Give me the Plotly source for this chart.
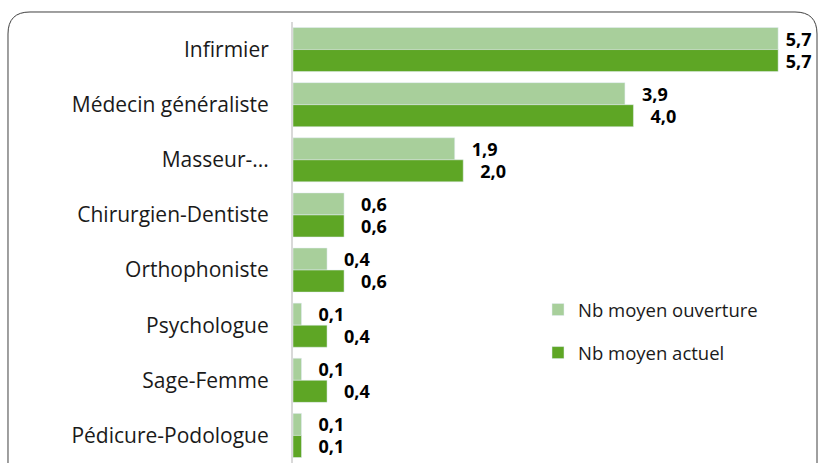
import plotly.graph_objects as go

categories = ["Infirmier", "Médecin généraliste", "Masseur-...", "Chirurgien-Dentiste",
              "Orthophoniste", "Psychologue", "Sage-Femme", "Pédicure-Podologue"]
nb_ouverture = [5.7, 3.9, 1.9, 0.6, 0.4, 0.1, 0.1, 0.1]
nb_actuel = [5.7, 4.0, 2.0, 0.6, 0.6, 0.4, 0.4, 0.1]
series_names = ["Nb moyen ouverture", "Nb moyen actuel"]

W, H = 819, 463
L, R, T, B = 293, 0, 22, 0
PW, PH = W - L - R, H - T - B


def fmt(v):
    pad = "\u00a0" if v >= 5 else "\u00a0\u00a0\u00a0"
    return pad + f"{v:.1f}".replace(".", ",")


def px(x, y):
    return (x - L) / PW, (H - B - y) / PH


fig = go.Figure()
for name, vals, col, grp in [(series_names[0], nb_ouverture, "#A8CF9B", "a"),
                             (series_names[1], nb_actuel, "#5EA625", "b")]:
    fig.add_trace(go.Bar(
        y=categories, x=vals, orientation="h", name=name, marker_color=col,
        text=[fmt(v) for v in vals], textposition="outside", cliponaxis=False,
        constraintext="none",
        textfont=dict(family="Open Sans", size=18, color="#000000", weight="bold"),
        legendgroup=grp,
    ))

# rounded border
x0, y0, x1, y1, r = 8, 12, 817, 475, 22
pts = {
    "a": px(x0, y1), "b": px(x0, y0 + r), "c": px(x0, y0), "d": px(x0 + r, y0),
    "e": px(x1 - r, y0), "f": px(x1, y0), "g": px(x1, y0 + r), "h": px(x1, y1),
}
p = lambda k: f"{pts[k][0]:.5f},{pts[k][1]:.5f}"
path = f"M {p('a')} L {p('b')} Q {p('c')} {p('d')} L {p('e')} Q {p('f')} {p('g')} L {p('h')}"
fig.add_shape(type="path", path=path, xref="paper", yref="paper",
              line=dict(color="#404040", width=1))

fig.update_layout(
    width=W, height=H, margin=dict(l=L, r=R, t=T, b=B, autoexpand=False),
    paper_bgcolor="white", plot_bgcolor="white",
    barmode="group", bargap=0.2, bargroupgap=0.0,
    font=dict(family="Open Sans", color="#1a1a1a"),
    showlegend=True,
    legend=dict(x=(538 - L) / PW, y=(463 - 291) / PH, xanchor="left", yanchor="top",
                font=dict(size=18.5, family="Open Sans", color="#1a1a1a"),
                tracegroupgap=16, itemwidth=30, bgcolor="rgba(0,0,0,0)"),
    xaxis=dict(range=[0, 6.18], visible=False, showgrid=False, automargin=False),
    yaxis=dict(autorange="reversed", showgrid=False, showline=True, linecolor="#D9D9D9",
               linewidth=2, ticks="", ticklabelstandoff=18, automargin=False,
               tickfont=dict(size=21, family="Open Sans", color="#1a1a1a")),
)

fig.write_html("out.html", config={"displayModeBar": False},
               post_script="document.body.style.margin='0';document.body.style.overflow='hidden';")
